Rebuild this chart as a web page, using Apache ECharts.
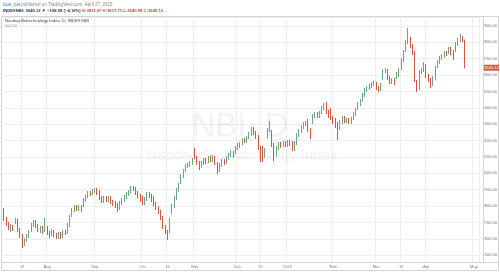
<!DOCTYPE html>
<html><head><meta charset="utf-8">
<script src="https://cdn.jsdelivr.net/npm/echarts@6/dist/echarts.min.js"></script>
<style>html,body{margin:0;padding:0;background:#fff}#c{width:500px;height:272px}</style>
</head><body><div id="c"></div>
<script>
// Daily OHLC, INDEX:NBI, 2014-07-07 .. 2015-04-27
const opens = [
2776,2721,2690,2654,2672,2703,2709,2654,2617,2568,
2593,2617,2654,2684,2703,2678,2654,2666,2654,2666,
2635,2629,2641,2623,2611,2629,2617,2641,2641,2684,
2745,2776,2794,2782,2794,2806,2837,2861,2880,2880,
2892,2898,2886,2849,2831,2849,2837,2849,2825,2819,
2806,2788,2819,2837,2855,2874,2886,2910,2904,2880,
2861,2849,2819,2843,2874,2861,2849,2813,2788,2764,
2727,2672,2641,2654,2764,2800,2849,2898,2947,2984,
3020,3045,3051,3063,3142,3094,3063,3045,3063,3081,
3075,3094,3081,3094,3057,3020,3051,3075,3069,3094,
3112,3124,3130,3155,3167,3185,3204,3197,3222,3240,
3265,3246,3222,3155,3142,3112,3222,3265,3252,3173,
3112,3155,3179,3173,3185,3173,3191,3185,3149,3185,
3234,3259,3283,3301,3320,3265,3313,3350,3362,3350,
3375,3399,3424,3375,3387,3338,3326,3301,3277,3314,
3338,3320,3326,3314,3338,3362,3399,3424,3448,3478,
3509,3521,3533,3546,3546,3521,3515,3582,3625,3625,
3582,3558,3570,3589,3601,3643,3692,3753,3802,3814,
3778,3735,3558,3521,3619,3631,3656,3595,3570,3546,
3582,3656,3680,3705,3717,3735,3741,3760,3741,3753,
3790,3814,3827,3811.37];
const closes = [
2721,2690,2666,2678,2660,2715,2654,2617,2562,2593,
2617,2641,2684,2703,2678,2654,2666,2641,2672,2635,
2617,2648,2623,2611,2629,2611,2641,2635,2684,2733,
2776,2794,2782,2794,2776,2837,2855,2880,2874,2892,
2898,2880,2849,2831,2849,2837,2849,2825,2813,2800,
2776,2819,2837,2855,2874,2886,2910,2904,2880,2861,
2837,2819,2843,2874,2861,2837,2813,2788,2764,2727,
2672,2641,2611,2715,2800,2849,2898,2929,2984,3014,
3045,3051,3063,3081,3100,3063,3033,3063,3081,3069,
3094,3081,3100,3063,3008,3051,3075,3063,3094,3112,
3130,3106,3155,3173,3179,3204,3197,3216,3240,3271,
3246,3222,3155,3081,3094,3142,3265,3301,3173,3094,
3155,3179,3167,3185,3173,3191,3179,3149,3185,3234,
3259,3283,3301,3307,3265,3222,3350,3362,3350,3369,
3399,3417,3375,3350,3338,3314,3289,3259,3314,3338,
3320,3326,3314,3332,3362,3387,3424,3443,3478,3509,
3521,3533,3546,3552,3521,3509,3540,3625,3631,3582,
3558,3570,3552,3607,3631,3692,3741,3802,3863,3778,
3735,3570,3521,3619,3631,3662,3595,3570,3546,3582,
3643,3680,3705,3717,3735,3729,3760,3735,3711,3790,
3814,3833,3814,3645.12];
const lows = [
2709,2678,2654,2641,2648,2690,2641,2605,2544,2556,
2580,2605,2641,2672,2666,2641,2635,2629,2641,2623,
2605,2617,2611,2599,2599,2599,2605,2623,2629,2672,
2733,2764,2770,2770,2764,2794,2825,2849,2861,2868,
2880,2868,2837,2819,2819,2825,2825,2813,2800,2788,
2764,2776,2806,2825,2843,2861,2874,2892,2868,2849,
2825,2806,2806,2831,2849,2825,2800,2776,2752,2715,
2660,2629,2593,2635,2752,2788,2837,2886,2935,2971,
3008,3033,3039,3051,3088,3051,3020,3033,3051,3057,
3063,3069,3069,3051,2996,3008,3039,3051,3057,3081,
3100,3094,3118,3142,3155,3173,3185,3185,3210,3228,
3234,3210,3142,3069,3069,3094,3210,3252,3161,3075,
3100,3142,3155,3161,3161,3161,3167,3136,3136,3173,
3222,3246,3271,3289,3252,3210,3301,3338,3338,3338,
3362,3387,3362,3338,3326,3301,3277,3204,3265,3301,
3307,3307,3301,3301,3326,3350,3387,3411,3436,3466,
3497,3509,3521,3533,3509,3497,3503,3570,3613,3570,
3546,3546,3540,3576,3589,3631,3680,3741,3790,3766,
3723,3558,3497,3509,3607,3619,3582,3558,3521,3533,
3570,3643,3668,3692,3705,3717,3729,3723,3692,3741,
3778,3802,3802,3640.99];
const highs = [
2788,2733,2703,2690,2684,2727,2721,2666,2629,2605,
2629,2654,2697,2715,2715,2690,2678,2678,2727,2678,
2648,2660,2654,2635,2641,2641,2654,2654,2697,2745,
2788,2806,2806,2806,2806,2849,2868,2892,2892,2904,
2910,2910,2898,2861,2861,2861,2861,2861,2837,2831,
2819,2831,2849,2868,2886,2898,2922,2922,2916,2892,
2874,2861,2855,2886,2886,2874,2861,2825,2800,2776,
2739,2684,2654,2727,2813,2861,2910,2941,2996,3026,
3057,3063,3075,3094,3155,3106,3075,3075,3094,3094,
3106,3106,3112,3106,3069,3063,3088,3088,3106,3124,
3142,3136,3167,3185,3191,3216,3216,3228,3252,3283,
3283,3259,3234,3167,3167,3155,3277,3320,3265,3185,
3167,3191,3191,3197,3197,3204,3204,3197,3197,3246,
3271,3295,3313,3320,3332,3277,3362,3375,3375,3381,
3411,3430,3436,3387,3399,3350,3338,3314,3326,3350,
3350,3338,3338,3344,3375,3399,3436,3454,3491,3521,
3533,3546,3558,3564,3558,3533,3552,3637,3643,3637,
3595,3582,3582,3619,3643,3705,3753,3814,3888,3833,
3790,3747,3570,3631,3643,3680,3668,3607,3582,3595,
3656,3692,3717,3729,3747,3747,3772,3772,3753,3802,
3827,3851,3839,3817.71];

const holidays = ['2014-09-01','2014-11-27','2014-12-25','2015-01-01','2015-01-19','2015-02-16','2015-04-03'];
const categoryCount = 210; // trading days from 2014-07-07, incl. empty days after the last bar
const tickLabels = {
  '2014-07-17':'17','2014-08-01':'Aug','2014-09-02':'Sep','2014-10-01':'Oct','2014-10-16':'16',
  '2014-11-03':'Nov','2014-12-01':'Dec','2014-12-15':'15','2015-01-02':'2015','2015-02-02':'Feb',
  '2015-03-02':'Mar','2015-03-17':'17','2015-04-01':'Apr','2015-05-01':'May'
};
const lastPrice = 3645.12;
const yTicksFrom = 2458, yTicksTo = 3955;

const up = '#6ba583', down = '#d75442';

const dates = [];
(function(){
  const d = new Date(Date.UTC(2014, 6, 7));
  while (dates.length < categoryCount) {
    const iso = d.toISOString().slice(0, 10);
    const wd = d.getUTCDay();
    if (wd !== 0 && wd !== 6 && holidays.indexOf(iso) < 0) dates.push(iso);
    d.setUTCDate(d.getUTCDate() + 1);
  }
})();

const ohlc = opens.map((o, i) => [o, closes[i], lows[i], highs[i]]);
const showTick = (i, v) => Object.prototype.hasOwnProperty.call(tickLabels, v);
const font = 'Liberation Sans, Arial, sans-serif';

const chart = echarts.init(document.getElementById('c'), null, {renderer: 'canvas'});
const baseGraphic = [
    {type: 'text', x: 240, y: 127, z: 1, silent: true,
      style: {text: 'NBI, D', fontSize: 33, fontFamily: font, fill: 'rgba(0,0,0,0.05)', align: 'center', verticalAlign: 'middle'}},
    {type: 'text', x: 242, y: 156, z: 1, silent: true,
      style: {text: 'Nasdaq Biotechnology Index', fontSize: 15, fontFamily: font, fill: 'rgba(0,0,0,0.05)', align: 'center', verticalAlign: 'middle'}},
    {type: 'rect', z: 10, silent: true, shape: {x: 1.5, y: 16.5, width: 497, height: 254},
      style: {fill: 'none', stroke: '#d4d4d4', lineWidth: 1}},
    {type: 'line', z: 10, silent: true, shape: {x1: 483.5, y1: 16.5, x2: 483.5, y2: 262.5},
      style: {stroke: '#d4d4d4', lineWidth: 1}},
    {type: 'line', z: 10, silent: true, shape: {x1: 1.5, y1: 262.5, x2: 498.5, y2: 262.5},
      style: {stroke: '#d4d4d4', lineWidth: 1}},
    {type: 'text', x: 3, y: 4.5, z: 10,
      style: {text: '{u|ique_cat} published on TradingView.com, April 27, 2015', fontSize: 4.5, fontFamily: font, fill: '#888', verticalAlign: 'middle',
        rich: {u: {fill: '#3d85c6', fontSize: 4.5, fontFamily: font}}}},
    {type: 'text', x: 3, y: 11, z: 10,
      style: {text: 'INDEXNBI: 3645.12 ▼ −158.59 (−4.16%) {r|O:3811.37 H:3817.71 L:3640.99 C:3645.12}', fontSize: 4.2, fontWeight: 'bold', fontFamily: font, fill: '#1f2a44', verticalAlign: 'middle',
        rich: {r: {fill: '#c9443a', fontSize: 4.2, fontWeight: 'bold', fontFamily: font}}}},
    {type: 'text', x: 5, y: 21, z: 10,
      style: {text: 'Nasdaq Biotechnology Index, D, INDEX:NBI', fontSize: 4.3, fontFamily: font, fill: '#444', verticalAlign: 'middle'}},
    {type: 'text', x: 5, y: 26, z: 10,
      style: {text: 'Vol(20)', fontSize: 3.8, fontFamily: font, fill: '#999', verticalAlign: 'middle'}}
];
chart.setOption({
  backgroundColor: '#fff',
  animation: false,
  textStyle: {fontFamily: font},
  grid: {left: 3, right: 17, top: 17, bottom: 10},
  xAxis: {
    type: 'category', data: dates, boundaryGap: true,
    axisLine: {show: false}, axisTick: {show: false},
    axisLabel: {interval: showTick, formatter: v => tickLabels[v] || '', fontSize: 4, color: '#777', margin: 2.5, fontFamily: font},
    splitLine: {show: true, interval: showTick, lineStyle: {color: '#eeeeee', width: 1}}
  },
  yAxis: {
    type: 'value', position: 'right', min: yTicksFrom, max: yTicksTo,
    splitNumber: 15, minInterval: 100, maxInterval: 100,
    axisLine: {show: false}, axisTick: {show: false},
    axisLabel: {fontSize: 4, color: '#777', margin: 3, fontFamily: font, showMinLabel: false, showMaxLabel: false,
      formatter: v => v.toFixed(2)},
    splitLine: {show: true, lineStyle: {color: '#eeeeee', width: 1}}
  },
  graphic: baseGraphic,
  series: [{
    type: 'candlestick', data: ohlc, barWidth: '55%',
    itemStyle: {color: up, color0: down, borderColor: up, borderColor0: down, borderWidth: 1}
  }]
});
// last-price tag on the price scale, positioned through the axis scale
const py = chart.convertToPixel({yAxisIndex: 0}, lastPrice);
chart.setOption({graphic: baseGraphic.concat([
  {type: 'rect', z: 20, silent: true, shape: {x: 484, y: py - 3, width: 15, height: 6}, style: {fill: down}},
  {type: 'text', x: 491.5, y: py, z: 21, silent: true,
    style: {text: lastPrice.toFixed(2), fontSize: 4, fontFamily: font, fill: '#fff', align: 'center', verticalAlign: 'middle'}}
])});
</script></body></html>
